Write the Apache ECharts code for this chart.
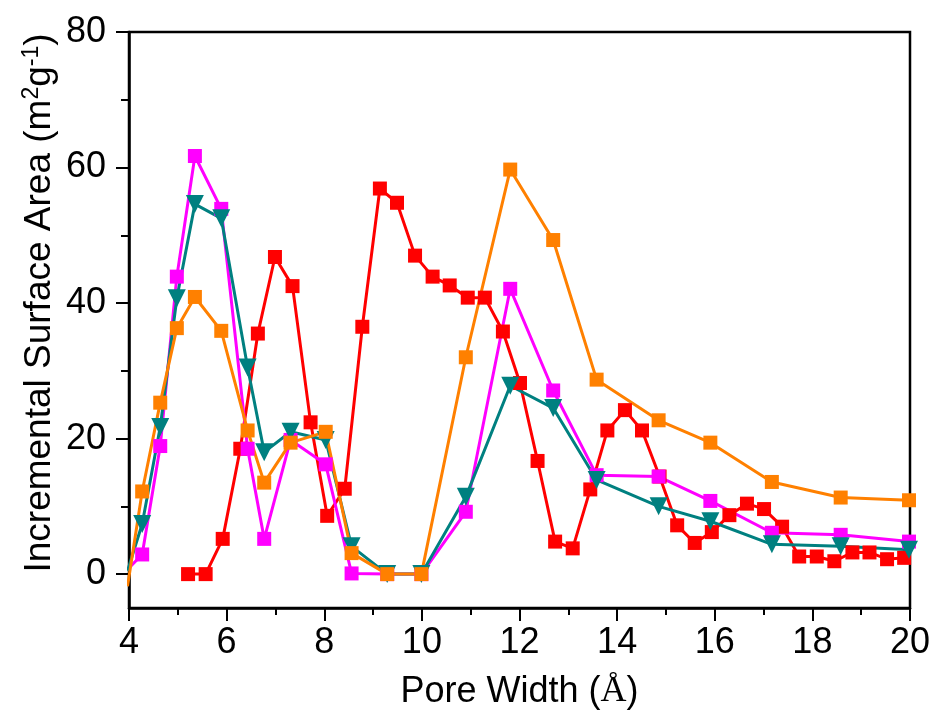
<!DOCTYPE html>
<html lang="en">
<head>
    <meta charset="UTF-8">
    <title>Incremental Surface Area</title>
</head>
<script src="https://cdn.jsdelivr.net/npm/echarts@6.0.0/dist/echarts.min.js" type="text/javascript"></script>
<body style="margin:0;background:#fff;">
<div id="chart" style="width:936px;height:726px;"></div>

<script type="text/javascript">
    // red series (fine pore-width steps)
    var redX = [5.21, 5.57, 5.92, 6.28, 6.64, 6.99, 7.35, 7.72, 8.06, 8.42, 8.78, 9.14, 9.49, 9.86, 10.22,
        10.57, 10.94, 11.29, 11.66, 12.01, 12.37, 12.73, 13.09, 13.45, 13.80, 14.16, 14.51, 14.87, 15.23,
        15.59, 15.94, 16.30, 16.66, 17.01, 17.38, 17.73, 18.09, 18.45, 18.82, 19.17, 19.53, 19.88];
    var redY = [0, 0, 5.2, 18.5, 35.5, 46.8, 42.5, 22.4, 8.6, 12.6, 36.5, 56.9, 54.8, 47, 43.9,
        42.6, 40.8, 40.8, 35.8, 28.2, 16.7, 4.8, 3.8, 12.5, 21.2, 24.2, 21.2, 14.4, 7.2,
        4.6, 6.2, 8.7, 10.4, 9.6, 7.0, 2.6, 2.6, 1.9, 3.2, 3.2, 2.2, 2.4];

    // the other three share the same pore widths
    var widthX = [3.97, 4.27, 4.64, 4.98, 5.35, 5.89, 6.43, 6.77, 7.31, 8.03, 8.56, 9.29, 9.99,
        10.90, 11.81, 12.69, 13.58, 14.85, 15.91, 17.17, 18.58, 19.98];
    var magentaY = [0.7, 2.9, 18.9, 43.9, 61.7, 53.9, 18.5, 5.2, 19.8, 16.2, 0.1, 0, 0,
        9.2, 42.1, 27.1, 14.6, 14.4, 10.8, 6.1, 5.8, 4.8];
    var tealY = [0.5, 7.4, 21.7, 40.7, 54.6, 52.5, 30.5, 18.0, 21.0, 19.8, 4.1, 0, 0,
        11.4, 27.8, 24.5, 13.9, 10.0, 7.8, 4.4, 4.1, 3.6];
    var orangeY = [-1.8, 12.2, 25.3, 36.3, 40.9, 35.9, 21.2, 13.5, 19.4, 21.0, 3.1, 0, 0,
        32.0, 59.7, 49.3, 28.7, 22.7, 19.4, 13.6, 11.3, 10.9];

    var yLabels = [0, 20, 40, 60, 80];
    var yMinor = [10, 30, 50, 70];

    function pairs(xs, ys) {
        return xs.map(function (x, i) { return [x, ys[i]]; });
    }

    function lineSeries(name, color, xs, ys, symbol, size, rotate) {
        return {
            name: name,
            type: 'line',
            data: pairs(xs, ys),
            symbol: symbol,
            symbolSize: size,
            symbolRotate: rotate || 0,
            clip: true,
            lineStyle: { color: color, width: 3 },
            itemStyle: { color: color, borderWidth: 0 },
            emphasis: { disabled: true },
            z: 3
        };
    }

    var chart = echarts.init(document.getElementById('chart'));
    var font = 'Liberation Sans, Arial, sans-serif';

    var option = {
        animation: false,
        backgroundColor: '#ffffff',
        grid: {
            left: 129, right: 26, top: 32, bottom: 118,
            show: true, borderColor: '#000', borderWidth: 2.5, backgroundColor: 'transparent'
        },
        xAxis: {
            type: 'value',
            min: 4, max: 20, interval: 2,
            name: '{a|Pore Width (}{b|Å}{a|)}',
            nameLocation: 'middle',
            nameGap: 66,
            nameTextStyle: {
                rich: {
                    a: { fontFamily: font, fontSize: 36, color: '#000' },
                    b: { fontFamily: 'Liberation Serif, Times New Roman, serif', fontSize: 36, color: '#000' }
                }
            },
            axisLine: { show: true, onZero: false, lineStyle: { color: '#000', width: 2.5 } },
            axisTick: { show: true, inside: false, length: 13, lineStyle: { color: '#000', width: 2 } },
            minorTick: { show: true, splitNumber: 2, length: 7, lineStyle: { color: '#000', width: 2 } },
            axisLabel: { fontFamily: font, fontSize: 36, color: '#000', margin: 17 },
            splitLine: { show: false }
        },
        yAxis: [{
            type: 'value',
            min: -5, max: 80,
            axisLine: { show: true, onZero: false, lineStyle: { color: '#000', width: 2.5 } },
            axisTick: { show: true, inside: false, length: 13, customValues: yLabels,
                lineStyle: { color: '#000', width: 2 } },
            axisLabel: { fontFamily: font, fontSize: 36, color: '#000', margin: 23, customValues: yLabels },
            splitLine: { show: false }
        }, {
            type: 'value',
            position: 'left',
            offset: 0,
            min: -5, max: 80,
            axisLine: { show: false },
            axisTick: { show: true, inside: false, length: 8, customValues: yMinor,
                lineStyle: { color: '#000', width: 2 } },
            axisLabel: { show: false },
            splitLine: { show: false }
        }],
        graphic: [{
            type: 'text',
            x: 40,
            y: 303,
            rotation: Math.PI / 2,
            style: {
                text: '{a|Incremental Surface Area (m}{s|2}{a|g}{s|-1}{a|)}',
                align: 'center',
                verticalAlign: 'middle',
                rich: {
                    a: { fontFamily: font, fontSize: 37, fill: '#000', lineHeight: 40 },
                    s: { fontFamily: font, fontSize: 23, fill: '#000', verticalAlign: 'top', lineHeight: 40 }
                }
            }
        }],
        series: [
            lineSeries('red', '#ff0000', redX, redY, 'rect', 14),
            lineSeries('magenta', '#ff00ff', widthX, magentaY, 'rect', 14),
            lineSeries('teal', '#008080', widthX, tealY, 'triangle', 18, 180),
            lineSeries('orange', '#ff8000', widthX, orangeY, 'rect', 14)
        ]
    };

    chart.setOption(option);
</script>
</body>
</html>
